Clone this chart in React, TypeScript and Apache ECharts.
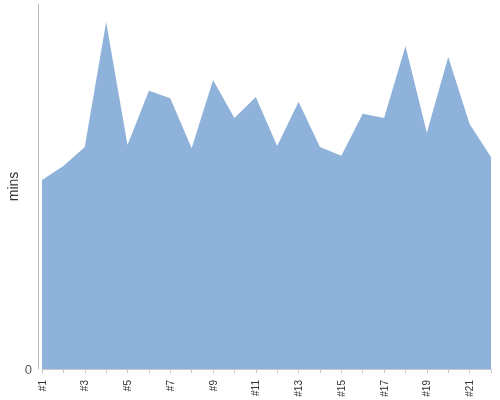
import React, { useEffect, useRef } from "react";
import * as echarts from "echarts";

const categories = ["#1","#2","#3","#4","#5","#6","#7","#8","#9","#10","#11","#12","#13","#14","#15","#16","#17","#18","#19","#20","#21","#22"];
const minsValues = [51.8, 55.6, 60.8, 95.1, 61.4, 76.2, 74.2, 60.5, 79.2, 68.8, 74.5, 61.1, 73.2, 60.8, 58.4, 69.9, 68.8, 88.5, 64.7, 85.5, 67.1, 58.1];
const yMin = 0;
const yMax = 100;

export default function App() {
  const ref = useRef<HTMLDivElement>(null);
  useEffect(() => {
    if (!ref.current) return;
    const chart = echarts.init(ref.current, undefined, { renderer: "svg" });
    chart.setOption({
      animation: false,
      grid: { left: 42, right: 9, top: 4, bottom: 31, containLabel: false, outerBoundsMode: "none" },
      xAxis: {
        type: "category",
        data: categories,
        boundaryGap: false,
        offset: 5,
        axisLine: { lineStyle: { color: "#c8c8c8" } },
        axisTick: { show: true, interval: 0, length: 4, lineStyle: { color: "#c8c8c8" } },
        axisLabel: { rotate: 90, interval: 1, fontSize: 10, color: "#333", fontFamily: "Liberation Sans, Arial, sans-serif", margin: 6 },
        splitLine: { show: false },
      },
      yAxis: {
        type: "value",
        min: yMin,
        max: yMax,
        interval: 100,
        offset: 4,
        name: "mins",
        nameLocation: "middle",
        nameGap: 18,
        nameMoveOverlap: false,
        nameTextStyle: { fontSize: 14, color: "#333", fontFamily: "Liberation Sans, Arial, sans-serif" },
        axisLine: { show: true, lineStyle: { color: "#bbbbbb" } },
        axisTick: { show: false },
        axisLabel: {
          fontSize: 13,
          color: "#555",
          fontFamily: "Liberation Sans, Arial, sans-serif",
          margin: 6,
          formatter: (v: number) => (v === 0 ? "0" : ""),
        },
        splitLine: { show: false },
      },
      series: [
        {
          type: "line",
          data: minsValues,
          showSymbol: false,
          symbol: "none",
          lineStyle: { width: 0, color: "#8fb2da" },
          areaStyle: { color: "#8fb2da", opacity: 1 },
        },
      ],
    });
    return () => chart.dispose();
  }, []);
  return <div ref={ref} style={{ position: "fixed", left: 0, top: 0, width: 500, height: 400 }} />;
}
